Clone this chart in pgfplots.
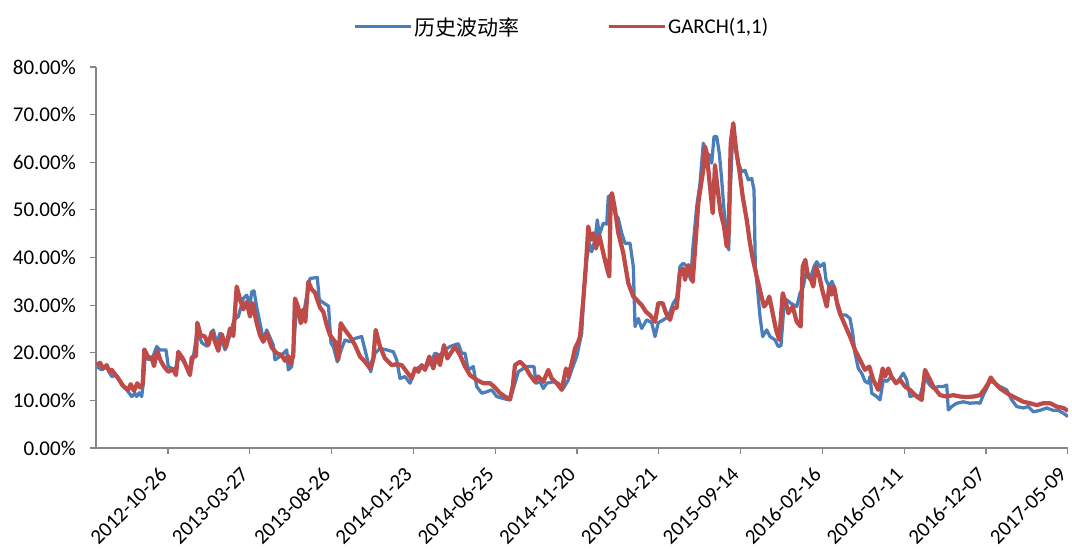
\documentclass[border=0pt]{standalone}
\usepackage{pgfplots}
\pgfplotsset{compat=1.18}
\usepackage{fontspec}
\setmainfont{Carlito}
\newfontfamily\cjk{Noto Sans CJK SC}
\definecolor{hvblue}{HTML}{4A7EBB}
\definecolor{garchred}{HTML}{BE4B48}
\definecolor{axisgray}{HTML}{868686}
\begin{document}
\begin{tikzpicture}
\begin{axis}[
  scale only axis, width=972bp, height=381bp,
  xmin=0, xmax=972, ymin=0, ymax=80,
  axis x line*=bottom, axis y line*=left,
  axis line style={-, axisgray, line width=1.2bp},
  every tick/.style={axisgray, line width=1.2bp},
  major tick length=6bp, tick align=outside,
  xtick={72,153.8,235.6,317.4,399.2,481,562.8,644.6,726.4,808.2,890,971.8},
  xticklabels={2012-10-26,2013-03-27,2013-08-26,2014-01-23,2014-06-25,2014-11-20,2015-04-21,2015-09-14,2016-02-16,2016-07-11,2016-12-07,2017-05-09},
  ytick={0,10,20,30,40,50,60,70,80},
  yticklabel={\pgfmathprintnumber[fixed,fixed zerofill,precision=2]{\tick}\%},
  /pgf/number format/assume math mode=true,
  tick label style={font=\fontsize{21bp}{25bp}\selectfont, black},
  xticklabel style={xshift=-10bp, yshift=-12bp, rotate=45, anchor=north east, inner sep=0pt},
  yticklabel style={inner sep=0pt, xshift=-14bp},
  legend columns=2,
  legend image code/.code={\draw[#1, line width=3bp] (-4bp,0bp) -- (52bp,0bp);},
  legend style={draw=none, fill=none, at={(0.479,1)}, anchor=center, yshift=40bp,
    font=\fontsize{21bp}{25bp}\selectfont, inner sep=0pt,
    /tikz/every even column/.append style={column sep=86bp}},
]
\addplot[hvblue, line width=3.25bp, line join=round] coordinates {
(0.7,17.1) (5.7,16.4) (10.7,17.1) (15.7,15.0) (20.7,15.3) (25.7,13.2) (30.7,12.2) (35.7,10.8)
(39,11.5) (40.7,10.8) (43.3,11.6) (45.7,10.8) (47.3,13.6) (49,18.8) (55.7,18.5) (60.7,21.3)
(64,20.6) (70,20.6) (72.3,17.1) (79,16.4) (83.3,19.3) (89,17.8) (94,15.7) (97.3,19.0)
(101.3,24.8) (105.7,22.1) (110.7,21.4) (117.3,24.8) (120.7,22.0) (124,24.1) (129,20.6) (134,23.7)
(138,26.9) (142.3,27.6) (147.3,31.4) (150.7,32.1) (154,30.0) (155.7,32.8) (158,33.0) (160.7,29.6)
(164,26.2) (167.3,22.7) (170.7,24.8) (177.3,21.6) (179,18.5) (185.7,19.5) (190.7,20.6) (192.3,16.4)
(195.7,17.1) (197.3,20.6) (200.7,29.7) (204,26.9) (207.3,27.6) (210,31.1) (214,35.6) (221.3,35.8)
(223.3,31.1) (227.3,30.5) (232.5,29.8) (235,22.0) (237.3,21.3) (241.3,18.1) (245.7,20.9) (249,22.7)
(254,22.3) (259,23.0) (265.7,23.4) (269,20.6) (272.3,17.8) (274.7,16.0) (279,19.9) (284,20.9)
(290.7,20.6) (297.3,20.2) (300.7,18.5) (304,14.6) (309,15.0) (314,13.6) (319,16.4) (324,17.1)
(330.7,17.1) (335.7,18.5) (339,19.9) (344,19.5) (349,20.6) (354,21.3) (358,21.6) (362.3,21.9)
(365.7,19.9) (369,19.9) (372.3,16.4) (377.3,17.1) (380.7,12.9) (385.7,11.5) (390.7,11.8) (395.7,12.2)
(400.7,10.8) (405.7,10.5) (410.7,10.2) (414,10.1) (419,13.6) (422.3,16.0) (427.3,16.7) (432.3,17.1)
(438,17.1) (440,13.6) (444,13.9) (447.3,12.5) (450.7,13.6) (457.3,13.9) (462.3,13.6) (467.3,12.5)
(472.3,14.3) (475.7,16.4) (480.7,19.2) (485.7,24.1) (488,33.2) (490.7,39.5) (493.3,43.0) (495.7,41.2)
(499,43.7) (501.3,47.9) (503.3,44.7) (507.3,47.2) (510.7,47.0) (512.3,52.8) (515.7,53.1) (519,49.3)
(522.3,48.2) (525.7,45.1) (529,43.0) (534,43.0) (537.3,38.1) (539,25.5) (542.3,27.2) (545.7,25.1)
(550.7,26.9) (555.7,26.3) (559,23.4) (562.3,26.3) (567.3,26.9) (572.3,27.6) (577.3,30.4) (580.7,31.5)
(584,38.1) (587.3,38.8) (591.3,38.1) (594.7,35.3) (596.7,41.6) (600.7,50.7) (604,55.6) (607.3,64.0)
(610.7,61.9) (613.3,61.5) (615.7,59.8) (618,65.4) (620.7,65.4) (623.3,61.9) (625.7,56.3) (628,50.0)
(630.7,45.1) (632.7,41.6) (634,52.1) (636,62.6) (639,64.7) (642.3,59.8) (645.7,58.0) (649,58.3)
(652.3,56.3) (655.7,56.6) (658,54.2) (659.3,38.1) (661.3,33.9) (664,27.6) (666.7,23.4) (670.7,24.8)
(674,23.4) (679,22.7) (682.3,21.3) (685,21.5) (688,30.0) (690.7,31.1) (694.7,30.4) (700.7,29.7)
(704,32.5) (707.3,33.9) (710.7,37.4) (714,35.3) (718,38.1) (720.7,39.1) (724,38.1) (728,38.8)
(730,35.3) (733.3,33.9) (736,35.0) (739,33.2) (741.3,29.7) (744,27.9) (750,27.9) (754,27.2)
(756.7,24.1) (759,19.9) (762.3,16.7) (765.7,15.7) (769,14.0) (772.3,13.6) (774,15.0) (775.7,11.5)
(780.7,10.8) (784,10.1) (787.3,14.3) (790.7,14.0) (795.7,15.0) (800,13.6) (804,14.7) (807.3,15.7)
(810.7,14.3) (814,10.8) (819,11.1) (824,10.8) (829,15.0) (832.3,13.6) (837.3,12.5) (842.3,12.9)
(847.3,12.9) (850.7,13.2) (852.3,8.0) (855.7,8.7) (860.7,9.4) (867.3,9.7) (874,9.4) (880.7,9.5)
(884,9.4) (887.3,11.1) (890.7,12.5) (894,14.0) (899,13.6) (904,12.9) (910.7,12.2) (915.7,10.1)
(920.7,8.7) (927.3,8.4) (932.3,8.7) (937.3,7.6) (944,7.9) (950.7,8.4) (957.3,7.9) (962.3,7.9)
(967.3,7.3) (972,6.6)
};
\addlegendentry{{\cjk 历史波动率}}
\addplot[garchred, line width=4.25bp, line join=round] coordinates {
(0.7,17.4) (4,17.9) (7.3,16.7) (10.7,17.4) (13.3,16.0) (15.7,16.4) (19,15.5) (22.3,14.6)
(27.3,13.0) (32.3,12.2) (34.7,13.4) (38,12.0) (41.3,13.6) (44,12.7) (46.7,13.4) (48.3,20.7)
(52.3,19.0) (55.7,19.0) (58,17.2) (61.3,20.4) (64.7,18.3) (68,17.1) (72.3,16.0) (77.3,16.5)
(80,15.3) (82.3,20.2) (87.3,18.6) (94,15.3) (95.7,19.0) (100,19.3) (101.3,26.3) (104.7,23.7)
(109,23.4) (112.3,21.6) (115.7,24.4) (119,22.3) (122.3,20.4) (125.7,23.9) (130,21.1) (134,25.1)
(137.3,23.5) (140.7,33.9) (144,31.2) (147.3,29.1) (150.7,30.7) (154,27.6) (156.7,30.4) (160.7,26.2)
(164,23.7) (167.3,22.3) (170.7,24.1) (175.7,21.1) (180.7,19.9) (185.7,19.5) (189,18.3) (192.3,19.3)
(194.7,17.6) (197.3,19.5) (199,31.4) (202.3,29.5) (204.7,26.2) (207.3,29.1) (209.3,26.5) (212.3,34.9)
(215.7,33.3) (219,32.6) (224,29.5) (227.3,28.6) (230.7,25.8) (234,23.7) (239,22.3) (242.3,18.5)
(244.7,26.2) (249,24.8) (254,23.4) (259,21.6) (264,19.2) (269,18.1) (274,16.7) (277.3,18.8)
(279.7,24.8) (284,21.3) (289,18.8) (295.7,17.4) (300.7,17.6) (305.7,17.4) (310.7,16.0) (315.7,14.6)
(319,16.7) (322.3,16.0) (325.7,17.4) (329,16.4) (333.3,19.2) (337.3,16.7) (340.7,19.5) (344,17.4)
(348,21.6) (351.3,18.8) (354.7,19.9) (359,21.3) (364,19.5) (369,17.1) (374,15.3) (380.7,14.3)
(387.3,13.6) (394,13.6) (399,12.7) (404,11.5) (409,10.8) (414,10.2) (416.7,12.9) (419,17.4)
(424,18.1) (429,17.1) (434,15.3) (439,13.9) (442.3,15.0) (447.3,13.9) (452.3,16.4) (455.7,14.6)
(460.7,13.6) (465.7,12.2) (470,16.7) (472.3,15.0) (475.7,17.8) (479,20.9) (482.3,22.3) (484,23.4)
(487.3,31.1) (490,38.8) (492.3,46.5) (494.7,43.7) (497.3,45.1) (500,41.9) (503.3,44.7) (507.3,40.9)
(511.3,37.4) (513.3,36.0) (514.7,52.8) (516,53.5) (519,50.0) (522.3,45.1) (527.3,40.9) (532.3,34.6)
(537.3,31.8) (540.7,31.1) (545.7,30.0) (550,28.6) (554,27.9) (559,26.5) (562.3,30.4) (566.7,30.4)
(570,28.3) (574,26.9) (577.3,29.4) (580.7,29.4) (584,37.0) (587.3,37.7) (589,35.3) (592.3,38.4)
(596.7,34.9) (599,41.6) (602.3,51.4) (604.7,54.9) (607.3,58.4) (609,63.3) (610.7,61.9) (613.3,56.3)
(616.7,49.3) (619,59.4) (621.3,54.9) (624.7,49.3) (628,46.5) (630.7,42.3) (632.7,45.1) (634.7,64.0)
(637.3,68.2) (640,62.6) (643.3,58.4) (646.7,52.8) (650.7,47.9) (654,43.0) (656.7,39.8) (660.7,36.0)
(664.7,32.5) (668,29.7) (670.7,30.4) (673.3,31.8) (676.7,28.3) (680,24.8) (683.3,22.7) (686.7,32.5)
(690,30.4) (692.3,28.3) (696.7,29.7) (700.7,26.5) (704.7,25.5) (706.7,38.1) (709.3,39.5) (712,36.0)
(714.7,35.5) (717.3,33.9) (720,38.1) (723.3,36.0) (726.7,32.8) (730.7,29.7) (733.3,33.9) (735.7,32.2)
(738,33.9) (740.7,30.8) (744.7,27.9) (749,25.8) (754,23.4) (759,20.6) (764,18.5) (769,16.4)
(773.3,17.1) (777.3,14.3) (782.3,12.2) (786.7,16.7) (789,15.0) (792.3,16.7) (795.7,14.9) (800,13.6)
(804,14.3) (809,12.9) (814,12.2) (820.7,10.8) (825.7,10.1) (829,16.4) (832.3,15.0) (837.3,12.9)
(844,11.1) (850.7,10.8) (857.3,11.1) (864,10.8) (870.7,10.7) (877.3,10.8) (884,11.1) (889,12.5)
(892.3,13.6) (894.7,14.8) (899,13.6) (904,12.5) (909,11.8) (914,11.1) (920.7,10.4) (927.3,9.7)
(934,9.4) (940.7,9.0) (947.3,9.4) (954,9.4) (960.7,8.7) (967.3,8.4) (972,7.8)
};
\addlegendentry{GARCH(1,1)}
\coordinate (bl) at (rel axis cs:0,0);
\coordinate (tr) at (rel axis cs:1,1);
\end{axis}
\pgfresetboundingbox
\path ([xshift=-96bp,yshift=-101bp]bl) rectangle ([xshift=4bp,yshift=67bp]tr);
\end{tikzpicture}
\end{document}
